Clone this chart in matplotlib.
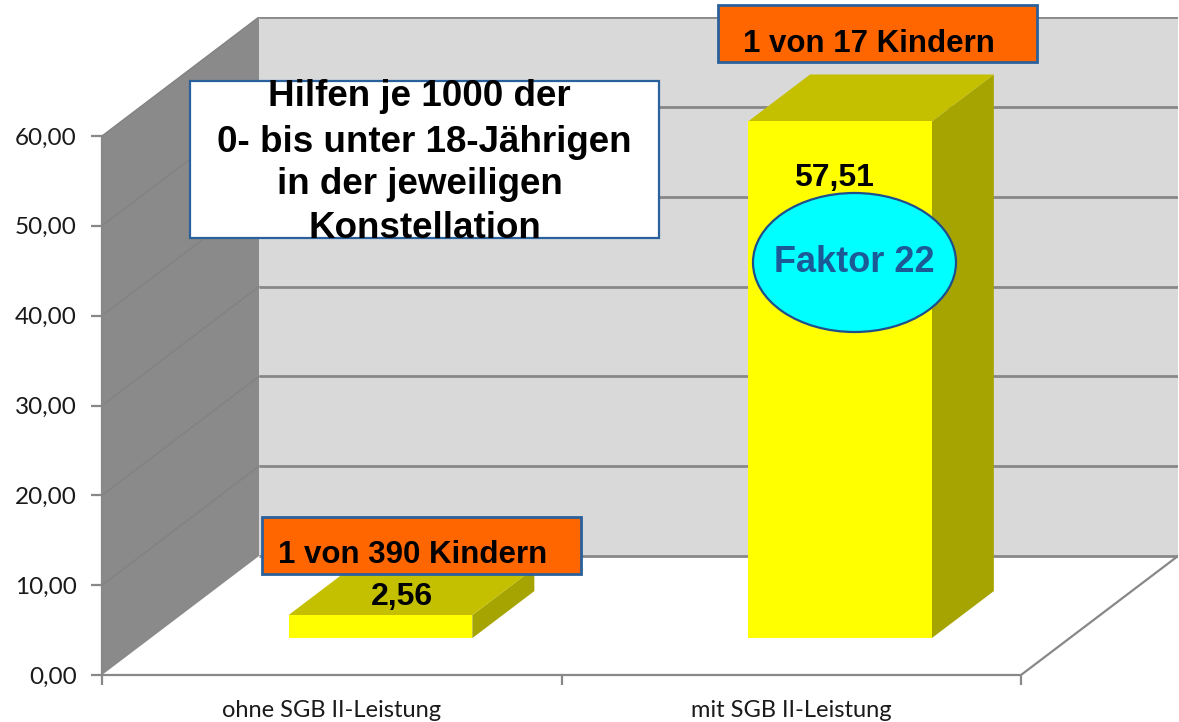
import matplotlib
matplotlib.use("Agg")
import matplotlib.pyplot as plt
from matplotlib.patches import Polygon, Rectangle, Ellipse

# ---------------- data ----------------
categories = ["ohne SGB II-Leistung", "mit SGB II-Leistung"]
values = [2.56, 57.51]
value_labels = ["2,56", "57,51"]
callouts = ["1 von 390 Kindern", "1 von 17 Kindern"]
y_ticks = [0, 10, 20, 30, 40, 50, 60]
y_tick_labels = ["0,00", "10,00", "20,00", "30,00", "40,00", "50,00", "60,00"]
title_lines = ["Hilfen je 1000 der", "0- bis unter 18-Jährigen",
               "in der jeweiligen", "Konstellation"]
factor_label = "Faktor 22"

# ---------------- geometry / style ----------------
W, H = 1179, 722
FRONT_L, FRONT_R = 102, 1021          # px of front floor edge
FRONT_BOT, FRONT_TOP = 675, 136       # px of 0 and 60 on front plane
DEPTH_PX_X, DEPTH_PX_Y = 157, 119     # oblique depth offset in px
YMAX = 60
ncat = len(categories)
px_per_cat = (FRONT_R - FRONT_L) / ncat
px_per_unit = (FRONT_BOT - FRONT_TOP) / YMAX
DX = DEPTH_PX_X / px_per_cat          # depth offset in data units
DY = DEPTH_PX_Y / px_per_unit
BAR_W = 0.40
D0, D1 = 0.31, 0.705                  # bar depth (fraction of full depth)

C_FRONT, C_TOP, C_SIDE = "#FFFF00", "#C4C000", "#A6A400"
C_LEFTWALL, C_BACKWALL = "#8A8A8A", "#D9D9D9"
C_GRID = "#888888"
C_BOXEDGE = "#2A619C"

ARIAL = ["Liberation Sans", "DejaVu Sans"]
CALIBRI = ["Lato", "DejaVu Sans"]

fig = plt.figure(figsize=(W / 100, H / 100), dpi=100)
fig.patch.set_facecolor("white")

ax_left = FRONT_L / W
ax_w = (FRONT_R + DEPTH_PX_X - FRONT_L) / W
ax_bot = 1 - FRONT_BOT / H
ax_h = (FRONT_BOT - FRONT_TOP + DEPTH_PX_Y) / H
ax = fig.add_axes([ax_left, ax_bot, ax_w, ax_h])
ax.set_xlim(0, ncat + DX)
ax.set_ylim(0, YMAX + DY)
ax.patch.set_alpha(0)


def fx(x):
    return x / W


def fy(y):
    return 1 - y / H


# walls
ax.add_patch(Polygon([(0, 0), (0, YMAX), (DX, YMAX + DY), (DX, DY)],
                     closed=True, facecolor=C_LEFTWALL, edgecolor="none", zorder=1))
ax.add_patch(Polygon([(DX, DY), (ncat + DX, DY), (ncat + DX, YMAX + DY), (DX, YMAX + DY)],
                     closed=True, facecolor=C_BACKWALL, edgecolor="none", zorder=1))

# gridlines
for v in y_ticks:
    ax.plot([DX, ncat + DX], [v + DY, v + DY], color=C_GRID, lw=2.0, zorder=2,
            solid_capstyle="butt")
    if v > 0:
        ax.plot([0, DX], [v, v + DY], color="#828282", lw=1.0, zorder=2)
# floor right edge
ax.plot([ncat, ncat + DX], [0, DY], color=C_GRID, lw=1.6, zorder=2)

# bars
for i, v in enumerate(values):
    c = i + 0.5
    xl, xr = c - BAR_W / 2, c + BAR_W / 2
    front = [(xl + D0 * DX, D0 * DY), (xr + D0 * DX, D0 * DY),
             (xr + D0 * DX, v + D0 * DY), (xl + D0 * DX, v + D0 * DY)]
    top = [(xl + D0 * DX, v + D0 * DY), (xr + D0 * DX, v + D0 * DY),
           (xr + D1 * DX, v + D1 * DY), (xl + D1 * DX, v + D1 * DY)]
    side = [(xr + D0 * DX, D0 * DY), (xr + D1 * DX, D1 * DY),
            (xr + D1 * DX, v + D1 * DY), (xr + D0 * DX, v + D0 * DY)]
    ax.add_patch(Polygon(side, closed=True, facecolor=C_SIDE, edgecolor="none", zorder=3))
    ax.add_patch(Polygon(top, closed=True, facecolor=C_TOP, edgecolor="none", zorder=3))
    ax.add_patch(Polygon(front, closed=True, facecolor=C_FRONT, edgecolor="none", zorder=3))

# value labels
ax.annotate(value_labels[0],
            xy=(0.5 + (D0 + D1) / 2 * DX, values[0] + (D0 + D1) / 2 * DY),
            xytext=(-7, -4), textcoords="offset points",
            ha="center", va="center", fontsize=23, fontweight="bold",
            family=ARIAL, color="black", zorder=6)
ax.annotate(value_labels[1],
            xy=(1.5 + D0 * DX, values[1] + D0 * DY),
            xytext=(-4, -41), textcoords="offset points",
            ha="center", va="center", fontsize=23, fontweight="bold",
            family=ARIAL, color="black", zorder=6)

# axes styling
for s in ["top", "right"]:
    ax.spines[s].set_visible(False)
ax.spines["left"].set_bounds(0, YMAX)
ax.spines["bottom"].set_bounds(0, ncat)
for s in ["left", "bottom"]:
    ax.spines[s].set_color(C_GRID)
    ax.spines[s].set_linewidth(1.6)
    ax.spines[s].set_zorder(4)
ax.set_yticks(y_ticks)
ax.set_yticklabels(y_tick_labels, family=CALIBRI, fontsize=17.5, color="#1a1a1a")
ax.set_xticks([0, 1, 2], minor=False)
ax.set_xticklabels([])
ax.set_xticks([0.5, 1.5], minor=True)
ax.set_xticklabels(categories, minor=True, family=CALIBRI, fontsize=17, color="#1a1a1a")
ax.tick_params(axis="y", length=8, width=1.6, color=C_GRID, pad=10)
ax.tick_params(axis="x", which="major", length=7, width=1.6, color=C_GRID)
ax.tick_params(axis="x", which="minor", length=0, pad=18)

# ---------------- annotations (figure pixel layout) ----------------
# title box
fig.add_artist(Rectangle((fx(190), fy(238)), fx(659 - 190), (238 - 81) / H,
                         transform=fig.transFigure, facecolor="white",
                         edgecolor=C_BOXEDGE, lw=1.6, zorder=7))
for line, (xc, yc) in zip(title_lines, [(419, 97), (424, 142), (420, 185), (425, 229)]):
    fig.text(fx(xc), fy(yc), line, ha="center", va="center", fontsize=26.5,
             fontweight="bold", family=ARIAL, color="black", zorder=8)

# callout boxes
box_px = [(262, 517, 581, 574, 278, 563), (718, 5, 1037, 62, 743, 52)]
for txt, (x0, y0, x1, y1, tx, ty) in zip(callouts, box_px):
    fig.add_artist(Rectangle((fx(x0), fy(y1)), (x1 - x0) / W, (y1 - y0) / H,
                             transform=fig.transFigure, facecolor="#FF6600",
                             edgecolor=C_BOXEDGE, lw=2.0, zorder=7))
    fig.text(fx(tx), fy(ty), txt, ha="left", va="baseline", fontsize=22.5,
             fontweight="bold", family=ARIAL, color="black", zorder=8)

# factor ellipse
fig.add_artist(Ellipse((fx(854.5), fy(262.5)), 203 / W, 139 / H,
                       transform=fig.transFigure, facecolor="#00FFFF",
                       edgecolor="#1F4E8C", lw=1.6, zorder=7))
fig.text(fx(854), fy(263), factor_label, ha="center", va="center", fontsize=26,
         fontweight="bold", family=ARIAL, color="#1C5A96", zorder=8)

fig.savefig("out.png", dpi=100)
